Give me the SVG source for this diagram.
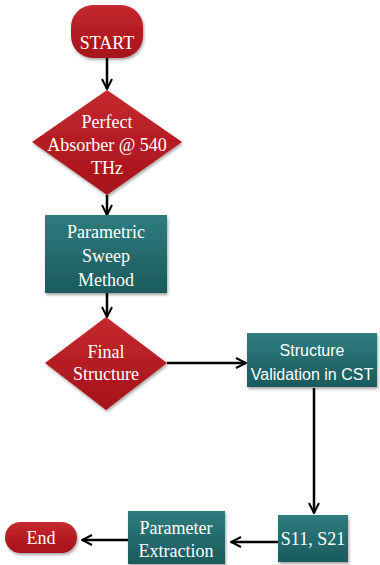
<svg xmlns="http://www.w3.org/2000/svg" width="380" height="565" viewBox="0 0 380 565">
<defs>
<linearGradient id="red" x1="0" y1="0" x2="0" y2="1"><stop offset="0" stop-color="#c42a2e"/><stop offset="1" stop-color="#a5111a"/></linearGradient>
<linearGradient id="teal" x1="0" y1="0" x2="0" y2="1"><stop offset="0" stop-color="#2f7c7e"/><stop offset="1" stop-color="#1b5a5d"/></linearGradient>
<filter id="sh" x="-10%" y="-10%" width="130%" height="130%"><feDropShadow dx="1" dy="2" stdDeviation="1.5" flood-color="#000" flood-opacity="0.35"/></filter>
<marker id="ah" viewBox="0 0 12 12" refX="11" refY="6" markerWidth="12" markerHeight="12" markerUnits="userSpaceOnUse" orient="auto"><path d="M1,1 L11,6 L1,11" fill="none" stroke="#000" stroke-width="2"/></marker>
<style>
.r{fill:url(#red);filter:url(#sh)}
.t{fill:url(#teal);filter:url(#sh)}
.s{font-family:"Liberation Serif","Times New Roman",serif;font-size:18px;fill:#fff;text-anchor:middle}
.ss{font-family:"Liberation Sans",Arial,sans-serif;font-size:16px;fill:#fff;text-anchor:middle}
.c{stroke:#000;stroke-width:2.5;fill:none;marker-end:url(#ah)}
</style>
</defs>
<g id="connectors">
<line class="c" x1="107" y1="58" x2="107" y2="89"/>
<line class="c" x1="107" y1="195" x2="107" y2="215"/>
<line class="c" x1="107" y1="293" x2="107" y2="317"/>
<line class="c" x1="167" y1="363" x2="246" y2="363"/>
<line class="c" x1="314" y1="388" x2="314" y2="513"/>
<line class="c" x1="278" y1="542" x2="231" y2="542"/>
<line class="c" x1="128" y1="540" x2="82" y2="540"/>
</g>
<g id="start">
<rect class="r" x="71" y="5" width="72" height="53" rx="22"/>
<text class="s" x="107" y="49">START</text>
</g>
<g id="absorber">
<polygon class="r" points="107,90 182,142 107,195 32,142"/>
<text class="s" x="107" y="128">Perfect</text>
<text class="s" x="107" y="151">Absorber @ 540</text>
<text class="s" x="107" y="174">THz</text>
</g>
<g id="sweep">
<rect class="t" x="45" y="215" width="122" height="78"/>
<text class="s" x="106" y="238">Parametric</text>
<text class="s" x="106" y="262">Sweep</text>
<text class="s" x="106" y="286">Method</text>
</g>
<g id="final">
<polygon class="r" points="106,317 167,363 106,410 45,363"/>
<text class="s" x="106" y="358">Final</text>
<text class="s" x="106" y="380">Structure</text>
</g>
<g id="validation">
<rect class="t" x="247" y="333" width="130" height="54"/>
<text class="ss" x="312" y="356">Structure</text>
<text class="ss" x="312" y="380">Validation in CST</text>
</g>
<g id="sparams">
<rect class="t" x="278" y="515" width="70" height="47"/>
<text class="s" x="313" y="545">S11, S21</text>
</g>
<g id="extraction">
<rect class="t" x="128" y="511" width="97" height="53"/>
<text class="s" x="176" y="534">Parameter</text>
<text class="s" x="176" y="557">Extraction</text>
</g>
<g id="end">
<rect class="r" x="5" y="522" width="72" height="31" rx="15.5"/>
<text class="s" x="41" y="544">End</text>
</g>
</svg>
